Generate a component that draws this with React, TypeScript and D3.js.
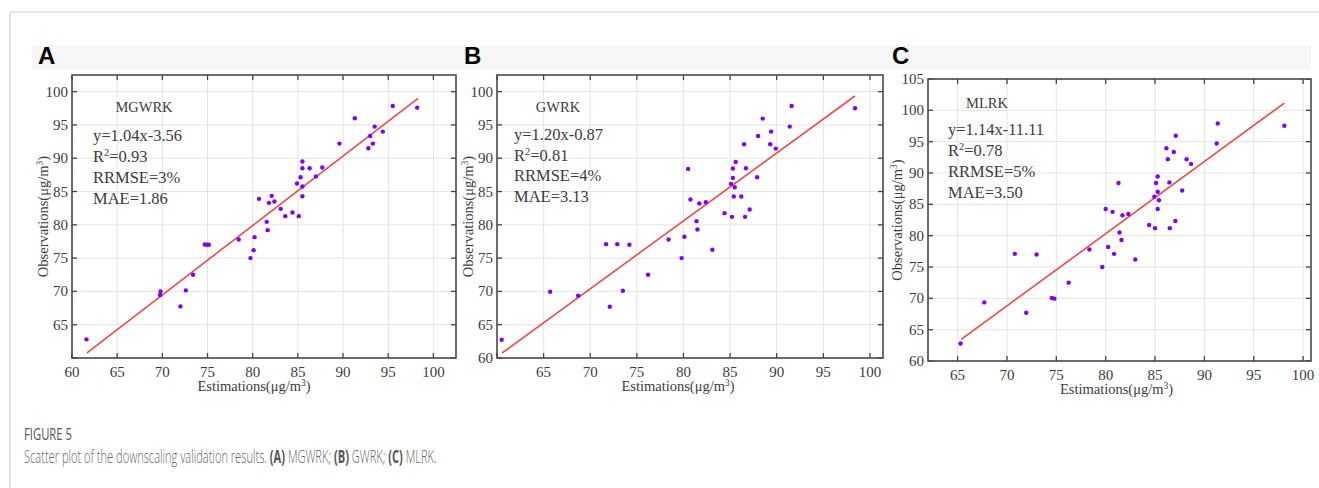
import React, { useEffect, useRef, useState } from 'react';
import * as d3 from 'd3';

// ---------- Data ----------
const estA = [98.2, 95.5, 91.3, 89.6, 93.5, 94.4, 93.0, 93.3, 92.8, 87.7, 86.3, 85.5, 85.5, 87.0, 85.3, 84.9, 85.5, 85.5, 80.7, 82.1, 81.8, 82.4, 83.1, 84.4, 83.6, 85.1, 81.55, 81.65, 80.2, 80.1, 79.75, 78.45, 74.7, 74.95, 75.15, 73.4, 72.6, 72.0, 69.8, 69.75, 61.6];
const obsA = [97.6, 97.85, 96.0, 92.2, 94.75, 94.0, 93.35, 92.2, 91.5, 88.6, 88.5, 89.5, 88.5, 87.25, 87.15, 86.2, 85.75, 84.3, 83.9, 84.35, 83.3, 83.5, 82.4, 81.85, 81.3, 81.3, 80.45, 79.2, 78.15, 76.2, 75.0, 77.8, 77.05, 77.0, 77.0, 72.5, 70.15, 67.75, 70.0, 69.45, 62.8];

const estB = [98.4, 91.6, 91.4, 88.5, 89.4, 88.0, 86.5, 89.3, 89.9, 85.6, 86.7, 85.3, 80.5, 87.9, 85.3, 85.1, 85.5, 85.4, 86.2, 80.75, 81.7, 82.4, 87.1, 84.4, 85.2, 86.6, 81.4, 81.5, 80.1, 79.8, 78.4, 83.1, 71.7, 72.9, 74.2, 76.2, 73.5, 72.1, 68.7, 65.7, 60.5];
const obsB = [97.5, 97.85, 94.75, 95.95, 94.0, 93.35, 92.1, 92.1, 91.45, 89.45, 88.5, 88.45, 88.4, 87.15, 87.05, 86.15, 85.65, 84.25, 84.25, 83.8, 83.2, 83.4, 82.3, 81.75, 81.2, 81.2, 80.55, 79.3, 78.2, 75.0, 77.8, 76.25, 77.1, 77.1, 77.0, 72.5, 70.1, 67.7, 69.35, 69.95, 62.75];

const estC = [98.1, 91.35, 91.25, 87.1, 86.15, 86.9, 86.3, 88.2, 88.65, 85.27, 85.1, 86.45, 81.3, 87.75, 85.27, 84.93, 85.4, 85.27, 80.0, 80.7, 81.7, 82.3, 87.06, 84.4, 85.0, 86.5, 81.4, 81.6, 80.25, 80.85, 78.35, 79.65, 83.0, 70.8, 73.0, 76.25, 74.55, 74.8, 71.95, 67.7, 65.3];
const obsC = [97.55, 97.9, 94.7, 95.95, 93.95, 93.35, 92.2, 92.2, 91.45, 89.45, 88.4, 88.5, 88.4, 87.2, 87.0, 86.2, 85.65, 84.25, 84.25, 83.8, 83.25, 83.45, 82.35, 81.7, 81.2, 81.2, 80.5, 79.3, 78.2, 77.1, 77.8, 75.0, 76.2, 77.1, 77.0, 72.5, 70.05, 69.95, 67.7, 69.35, 62.8];

// fitted lines as drawn: [slope, intercept, xStart, xEnd]
const fitA = [1.044, -3.62, 61.66, 98.3];
const fitB = [1.0195, -0.97, 60.54, 98.4];
const fitC = [1.152, -11.85, 65.37, 98.1];

const gridX_A = [60, 65, 70, 75, 80, 85, 90, 95, 100];
const labelX_A = [60, 65, 70, 75, 80, 85, 90, 95, 100];
const gridY_A = [60, 65, 70, 75, 80, 85, 90, 95, 100];
const labelY_A = [65, 70, 75, 80, 85, 90, 95, 100];

const gridX_B = [60, 65, 70, 75, 80, 85, 90, 95, 100];
const labelX_B = [65, 70, 75, 80, 85, 90, 95, 100];
const gridY_B = [60, 65, 70, 75, 80, 85, 90, 95, 100];
const labelY_B = [60, 65, 70, 75, 80, 85, 90, 95, 100];

const gridX_C = [65, 70, 75, 80, 85, 90, 95, 100];
const labelX_C = [65, 70, 75, 80, 85, 90, 95, 100];
const gridY_C = [60, 65, 70, 75, 80, 85, 90, 95, 100, 105];
const labelY_C = [60, 65, 70, 75, 80, 85, 90, 95, 100, 105];

const methodNames = ['MGWRK', 'GWRK', 'MLRK'];
const equations = ['y=1.04x-3.56', 'y=1.20x-0.87', 'y=1.14x-11.11'];
const r2Values = ['0.93', '0.81', '0.78'];
const rrmseValues = ['3%', '4%', '5%'];
const maeValues = ['1.86', '3.13', '3.50'];
const panelLetters = ['A', 'B', 'C'];

// ---------- Layout ----------
const W = 1319;
const H = 488;
const SERIF = '"Liberation Serif", "Times New Roman", serif';
const SANS = '"Open Sans", "Noto Sans", sans-serif';

const layouts = [
  { left: 72, right: 456, top: 75, bottom: 358, xDomain: [60, 102.5], yDomain: [60, 102.5], letterX: 38, ylabX: 43, xlabDx: -10, statDx: 21, statTop: 141, statGap: 21, nameDx: 72, nameY: 112 },
  { left: 497, right: 883, top: 75, bottom: 358, xDomain: [60, 101.4], yDomain: [60, 102.5], letterX: 464, ylabX: 468, xlabDx: -12, statDx: 17, statTop: 140, statGap: 20.5, nameDx: 61, nameY: 112 },
  { left: 928, right: 1311, top: 79, bottom: 361, xDomain: [62, 100.8], yDomain: [60, 105], letterX: 892, ylabX: 897, xlabDx: -3, statDx: 20, statTop: 134.5, statGap: 21, nameDx: 59, nameY: 108 },
];

const panelData = [
  { est: estA, obs: obsA, fit: fitA, gx: gridX_A, lx: labelX_A, gy: gridY_A, ly: labelY_A },
  { est: estB, obs: obsB, fit: fitB, gx: gridX_B, lx: labelX_B, gy: gridY_B, ly: labelY_B },
  { est: estC, obs: obsC, fit: fitC, gx: gridX_C, lx: labelX_C, gy: gridY_C, ly: labelY_C },
];

function Panel({ i }: { i: number }) {
  const L = layouts[i];
  const D = panelData[i];
  const x = d3.scaleLinear().domain(L.xDomain).range([L.left, L.right]);
  const y = d3.scaleLinear().domain(L.yDomain).range([L.bottom, L.top]);
  const [m, b, x0, x1] = D.fit;
  const line = d3.line<number>().x((v) => x(v)).y((v) => y(m * v + b));
  const tickLen = 5;
  const sx = L.left + L.statDx;
  const fs = 16.5;
  const txt = '#3c3c3c';
  return (
    <g>
      {D.gx.map((t) => (
        <line key={'gx' + t} x1={x(t)} x2={x(t)} y1={L.top} y2={L.bottom} stroke="#e4e4e4" strokeWidth={1} />
      ))}
      {D.gy.map((t) => (
        <line key={'gy' + t} x1={L.left} x2={L.right} y1={y(t)} y2={y(t)} stroke="#e4e4e4" strokeWidth={1} />
      ))}
      {D.gx.map((t) => (
        <g key={'tx' + t}>
          <line x1={x(t)} x2={x(t)} y1={L.bottom} y2={L.bottom - tickLen} stroke="#444" strokeWidth={1.3} />
          <line x1={x(t)} x2={x(t)} y1={L.top} y2={L.top + tickLen} stroke="#444" strokeWidth={1.3} />
        </g>
      ))}
      {D.gy.map((t) => (
        <g key={'ty' + t}>
          <line x1={L.left} x2={L.left + tickLen} y1={y(t)} y2={y(t)} stroke="#444" strokeWidth={1.3} />
          <line x1={L.right} x2={L.right - tickLen} y1={y(t)} y2={y(t)} stroke="#444" strokeWidth={1.3} />
        </g>
      ))}
      <rect x={L.left} y={L.top} width={L.right - L.left} height={L.bottom - L.top} fill="none" stroke="#4a4a4a" strokeWidth={1.6} />
      {D.lx.map((t) => (
        <text key={'lx' + t} x={x(t)} y={L.bottom + 19} textAnchor="middle" fontFamily={SERIF} fontSize={15} fill={txt}>{t}</text>
      ))}
      {D.ly.map((t) => (
        <text key={'ly' + t} x={L.left - 4} y={y(t) + 5} textAnchor="end" fontFamily={SERIF} fontSize={15} fill={txt}>{t}</text>
      ))}
      <text x={(L.left + L.right) / 2 + L.xlabDx} y={L.bottom + 33} textAnchor="middle" fontFamily={SERIF} fontSize={14.5} fill={txt}>
        Estimations(μg/m<tspan dy={-5} fontSize={9.5}>3</tspan><tspan dy={5}>)</tspan>
      </text>
      <text transform={`translate(${L.ylabX + 5},${(L.top + L.bottom) / 2}) rotate(-90)`} textAnchor="middle" fontFamily={SERIF} fontSize={14.5} fill={txt}>
        Observations(μg/m<tspan dy={-5} fontSize={9.5}>3</tspan><tspan dy={5}>)</tspan>
      </text>
      <path d={line([x0, x1]) || ''} stroke="#f0484a" strokeWidth={1.6} fill="none" />
      {D.est.map((e, k) => (
        <circle key={'p' + k} cx={x(e)} cy={y(D.obs[k])} r={2.2} fill="#8000ff" />
      ))}
      <text x={L.left + L.nameDx} y={L.nameY} textAnchor="middle" fontFamily={SERIF} fontSize={14.5} fill={txt}>{methodNames[i]}</text>
      <text x={sx} y={L.statTop} fontFamily={SERIF} fontSize={fs} fill={txt}>{equations[i]}</text>
      <text x={sx} y={L.statTop + L.statGap} fontFamily={SERIF} fontSize={fs} fill={txt}>
        R<tspan dy={-6} fontSize={10.5}>2</tspan><tspan dy={6}>={r2Values[i]}</tspan>
      </text>
      <text x={sx} y={L.statTop + 2 * L.statGap} fontFamily={SERIF} fontSize={fs} fill={txt}>RRMSE={rrmseValues[i]}</text>
      <text x={sx} y={L.statTop + 3 * L.statGap} fontFamily={SERIF} fontSize={fs} fill={txt}>MAE={maeValues[i]}</text>
      <text x={L.letterX} y={64} fontFamily='"Liberation Sans", Arial, sans-serif' fontWeight="bold" fontSize={24} fill="#000">{panelLetters[i]}</text>
    </g>
  );
}

function FittedText({ x, y, width, children, ...rest }: any) {
  const ref = useRef<SVGTextElement>(null);
  const [sx, setSx] = useState(1);
  useEffect(() => {
    if (ref.current) {
      const w = ref.current.getComputedTextLength();
      if (w > 0) setSx(width / w);
    }
  }, [width]);
  return (
    <g transform={`translate(${x},${y}) scale(${sx},1)`}>
      <text ref={ref} x={0} y={0} {...rest}>{children}</text>
    </g>
  );
}

export default function App() {
  return (
    <svg width={W} height={H} style={{ position: 'absolute', left: 0, top: 0, background: '#fff' }}>
      <rect x={0} y={0} width={W} height={H} fill="#fff" />
      <line x1={10} x2={W} y1={12} y2={12} stroke="#d0d0d0" strokeWidth={1.2} />
      <line x1={10} x2={10} y1={12} y2={H} stroke="#d0d0d0" strokeWidth={1.2} />
      <rect x={32} y={45} width={1279} height={25} fill="#f7f7f7" />
      {[0, 1, 2].map((i) => (
        <Panel key={i} i={i} />
      ))}
      <FittedText x={24} y={440} width={48} fontFamily={SANS} fontSize={17} fontWeight={500} fill="#555">FIGURE 5</FittedText>
      <FittedText x={24} y={463} width={413} fontFamily={SANS} fontSize={17.5} fontWeight={300} fill="#666">
        Scatter plot of the downscaling validation results. <tspan fontWeight={700} fill="#555">(A)</tspan> MGWRK; <tspan fontWeight={700} fill="#555">(B)</tspan> GWRK; <tspan fontWeight={700} fill="#555">(C)</tspan> MLRK.
      </FittedText>
    </svg>
  );
}
